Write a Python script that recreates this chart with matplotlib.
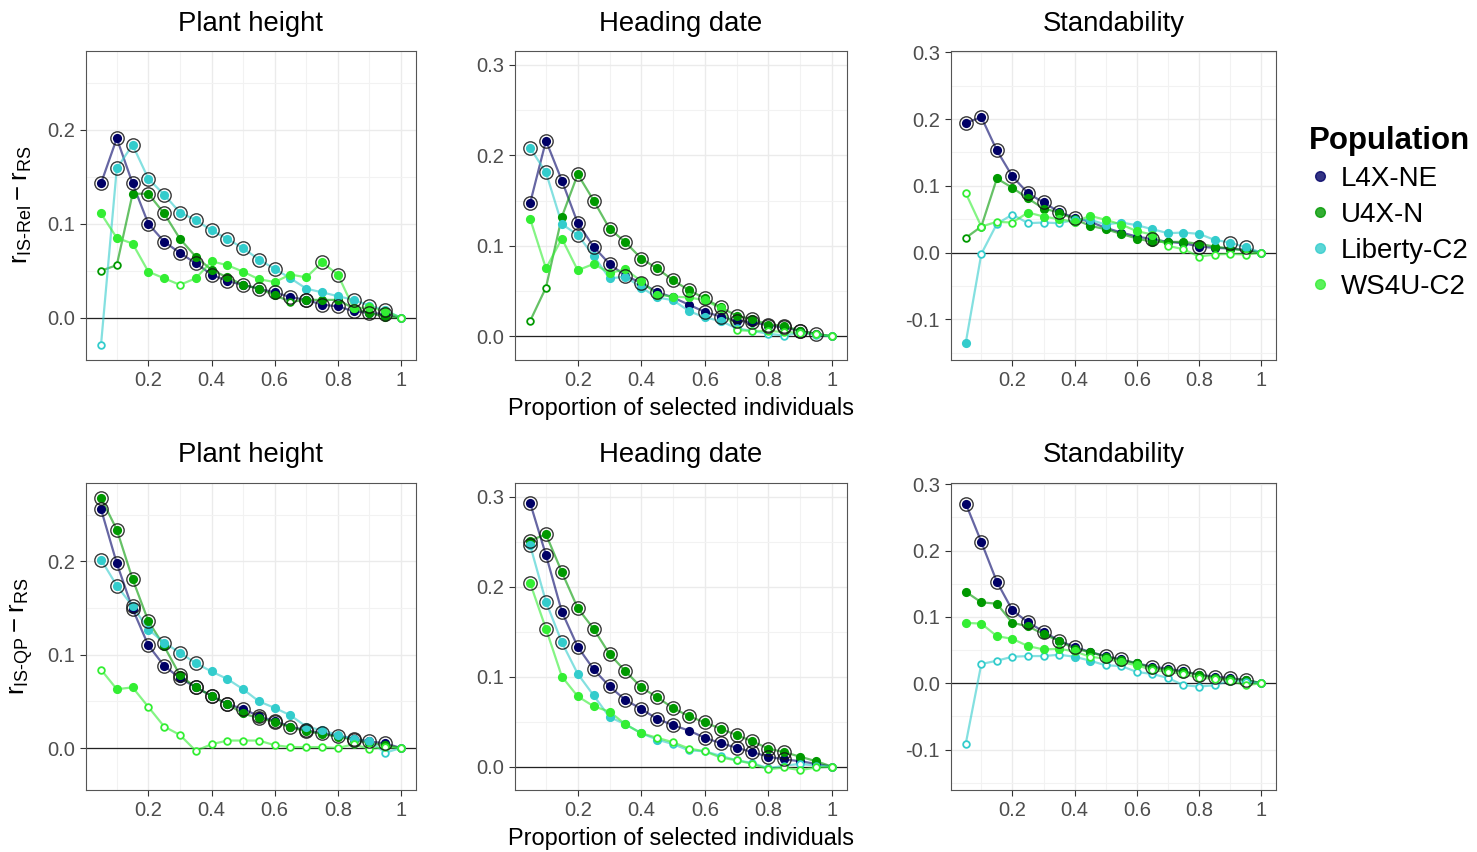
import matplotlib.pyplot as plt
from matplotlib.lines import Line2D
from matplotlib.ticker import MultipleLocator

plt.rcParams['font.family'] = ['Liberation Sans', 'DejaVu Sans']
plt.rcParams['mathtext.fontset'] = 'custom'
plt.rcParams['mathtext.rm'] = 'Liberation Sans'
plt.rcParams['mathtext.it'] = 'Liberation Sans'

# proportion of selected individuals
prop = [0.05, 0.10, 0.15, 0.20, 0.25, 0.30, 0.35, 0.40, 0.45, 0.50,
        0.55, 0.60, 0.65, 0.70, 0.75, 0.80, 0.85, 0.90, 0.95, 1.00]

populations = ['L4X-NE', 'U4X-N', 'Liberty-C2', 'WS4U-C2']
traits = ['Plant height', 'Heading date', 'Standability']

# point codes: r = filled + ring (significant), f = filled, o = open
# --- r(IS-Rel) - r(RS) ---
ph_rel_l4x = [0.143, 0.191, 0.143, 0.100, 0.081, 0.069, 0.058, 0.046, 0.039, 0.035,
              0.031, 0.027, 0.022, 0.019, 0.014, 0.012, 0.007, 0.005, 0.004, 0.0]
ph_rel_l4x_pt = "rrrrrrrrrrrrrrrrrrro"
ph_rel_u4x = [0.050, 0.056, 0.132, 0.132, 0.111, 0.084, 0.065, 0.051, 0.043, 0.035,
              0.031, 0.024, 0.017, 0.019, 0.019, 0.019, 0.010, 0.005, 0.001, 0.0]
ph_rel_u4x_pt = "oofrrffffffforfffffo"
ph_rel_lib = [-0.029, 0.159, 0.184, 0.148, 0.131, 0.112, 0.104, 0.093, 0.084, 0.074,
              0.062, 0.052, 0.042, 0.031, 0.027, 0.023, 0.019, 0.013, 0.008, 0.0]
ph_rel_lib_pt = "orrrrrrrrrrrffffrrro"
ph_rel_ws4 = [0.111, 0.085, 0.079, 0.049, 0.042, 0.035, 0.042, 0.060, 0.056, 0.049,
              0.041, 0.038, 0.046, 0.043, 0.059, 0.046, 0.010, 0.011, 0.007, 0.0]
ph_rel_ws4_pt = "fffffoffffffffrrfffo"

hd_rel_l4x = [0.147, 0.216, 0.172, 0.125, 0.099, 0.080, 0.067, 0.059, 0.049, 0.043,
              0.035, 0.027, 0.022, 0.017, 0.016, 0.012, 0.010, 0.006, 0.003, 0.0]
hd_rel_l4x_pt = "rrrrrrrrrffrrrrrrrro"
hd_rel_u4x = [0.017, 0.054, 0.132, 0.179, 0.150, 0.119, 0.104, 0.086, 0.075, 0.062,
              0.051, 0.042, 0.032, 0.023, 0.019, 0.013, 0.012, 0.006, 0.003, 0.0]
hd_rel_u4x_pt = "oofrrrrrrrrrrrrrrroo"
hd_rel_lib = [0.208, 0.181, 0.124, 0.112, 0.089, 0.064, 0.066, 0.054, 0.043, 0.040,
              0.028, 0.021, 0.017, 0.009, 0.006, 0.003, 0.001, 0.004, 0.002, 0.0]
hd_rel_lib_pt = "rrfrfffffffffooooooo"
hd_rel_ws4 = [0.130, 0.075, 0.108, 0.073, 0.080, 0.070, 0.074, 0.061, 0.046, 0.044,
              0.043, 0.040, 0.031, 0.007, 0.006, 0.006, 0.005, 0.004, 0.003, 0.0]
hd_rel_ws4_pt = "fffffffffffffooooooo"

st_rel_l4x = [0.194, 0.203, 0.153, 0.114, 0.089, 0.075, 0.061, 0.052, 0.046, 0.037,
              0.030, 0.024, 0.020, 0.016, 0.014, 0.009, 0.007, 0.006, 0.004, 0.0]
st_rel_l4x_pt = "rrrrrrrrffffrffrfffo"
st_rel_u4x = [0.022, 0.039, 0.111, 0.097, 0.081, 0.066, 0.060, 0.050, 0.040, 0.035,
              0.028, 0.021, 0.016, 0.016, 0.016, 0.013, 0.009, 0.006, 0.003, 0.0]
st_rel_u4x_pt = "oofffffffffffffffffo"
st_rel_lib = [-0.135, -0.002, 0.043, 0.057, 0.044, 0.045, 0.044, 0.049, 0.049, 0.042,
              0.045, 0.041, 0.035, 0.029, 0.030, 0.028, 0.019, 0.015, 0.008, 0.0]
st_rel_lib_pt = "fooooooffffffffffrro"
st_rel_ws4 = [0.089, 0.039, 0.046, 0.045, 0.060, 0.054, 0.050, 0.046, 0.055, 0.049,
              0.042, 0.032, 0.027, 0.010, 0.005, -0.006, -0.003, -0.002, -0.003, 0.0]
st_rel_ws4_pt = "oooofffffffffooooooo"

# --- r(IS-QP) - r(RS) ---
ph_qp_l4x = [0.256, 0.198, 0.149, 0.110, 0.088, 0.075, 0.065, 0.056, 0.047, 0.042,
             0.034, 0.029, 0.023, 0.019, 0.016, 0.013, 0.010, 0.007, 0.005, 0.0]
ph_qp_l4x_pt = "rrrrrrrrrrrrrrrrrrro"
ph_qp_u4x = [0.268, 0.234, 0.181, 0.136, 0.109, 0.078, 0.065, 0.056, 0.047, 0.037,
             0.032, 0.028, 0.022, 0.018, 0.015, 0.012, 0.009, 0.005, 0.003, 0.0]
ph_qp_u4x_pt = "rrrrfrrrrfrrfrffrffo"
ph_qp_lib = [0.202, 0.174, 0.152, 0.127, 0.113, 0.102, 0.091, 0.082, 0.074, 0.063,
             0.050, 0.043, 0.035, 0.023, 0.019, 0.014, 0.010, 0.007, -0.005, 0.0]
ph_qp_lib_pt = "rrrfrrrfffffffffffoo"
ph_qp_ws4 = [0.084, 0.063, 0.065, 0.044, 0.023, 0.014, -0.003, 0.004, 0.008, 0.008,
             0.008, 0.003, 0.001, 0.001, 0.001, 0.0, 0.004, -0.001, 0.001, 0.0]
ph_qp_ws4_pt = "offooooooooooooooooo"

hd_qp_l4x = [0.293, 0.235, 0.172, 0.133, 0.108, 0.089, 0.074, 0.064, 0.053, 0.046,
             0.040, 0.032, 0.026, 0.021, 0.016, 0.011, 0.008, 0.006, 0.003, 0.0]
hd_qp_l4x_pt = "rrrrrrrrrrfrrrrrrffo"
hd_qp_u4x = [0.251, 0.258, 0.216, 0.176, 0.153, 0.125, 0.106, 0.088, 0.077, 0.065,
             0.056, 0.049, 0.042, 0.035, 0.028, 0.020, 0.016, 0.011, 0.006, 0.0]
hd_qp_u4x_pt = "rrrrrrrrrrrrrrrrrffo"
hd_qp_lib = [0.246, 0.183, 0.138, 0.103, 0.079, 0.055, 0.047, 0.037, 0.030, 0.025,
             0.018, 0.017, 0.012, 0.007, 0.004, -0.002, 0.001, 0.003, 0.001, 0.0]
hd_qp_lib_pt = "rrrffffffooooooooooo"
hd_qp_ws4 = [0.204, 0.153, 0.100, 0.078, 0.067, 0.061, 0.047, 0.037, 0.032, 0.027,
             0.020, 0.017, 0.010, 0.007, 0.003, -0.003, -0.001, -0.004, -0.001, 0.0]
hd_qp_ws4_pt = "rrffffffoooooooooooo"

st_qp_l4x = [0.271, 0.213, 0.153, 0.110, 0.092, 0.078, 0.064, 0.055, 0.047, 0.041,
             0.036, 0.030, 0.025, 0.022, 0.018, 0.013, 0.010, 0.008, 0.005, 0.0]
st_qp_l4x_pt = "rrrrrrrrfrrfrrrrrrro"
st_qp_u4x = [0.138, 0.122, 0.120, 0.091, 0.086, 0.074, 0.064, 0.052, 0.047, 0.040,
             0.035, 0.030, 0.023, 0.020, 0.017, 0.013, 0.008, 0.006, 0.005, 0.0]
st_qp_u4x_pt = "fffffffffffffffffffo"
st_qp_lib = [-0.091, 0.029, 0.034, 0.040, 0.041, 0.041, 0.043, 0.040, 0.034, 0.027,
             0.026, 0.017, 0.014, 0.008, -0.003, -0.005, -0.003, 0.004, 0.002, 0.0]
st_qp_lib_pt = "oooooooffooooooooooo"
st_qp_ws4 = [0.091, 0.090, 0.071, 0.067, 0.056, 0.051, 0.052, 0.048, 0.040, 0.037,
             0.032, 0.027, 0.020, 0.017, 0.014, 0.008, 0.007, 0.004, -0.003, 0.0]
st_qp_ws4_pt = "ffffffffofffoooooooo"

colors = ['#000066', '#009900', '#33CCCC', '#33EE33']

col_ylim = [(-0.045, 0.284), (-0.026, 0.315), (-0.161, 0.302)]
col_yticks = [[0.0, 0.1, 0.2], [0.0, 0.1, 0.2, 0.3], [-0.1, 0.0, 0.1, 0.2, 0.3]]

rows = [
    [[(ph_rel_l4x, ph_rel_l4x_pt), (ph_rel_u4x, ph_rel_u4x_pt), (ph_rel_lib, ph_rel_lib_pt), (ph_rel_ws4, ph_rel_ws4_pt)],
     [(hd_rel_l4x, hd_rel_l4x_pt), (hd_rel_u4x, hd_rel_u4x_pt), (hd_rel_lib, hd_rel_lib_pt), (hd_rel_ws4, hd_rel_ws4_pt)],
     [(st_rel_l4x, st_rel_l4x_pt), (st_rel_u4x, st_rel_u4x_pt), (st_rel_lib, st_rel_lib_pt), (st_rel_ws4, st_rel_ws4_pt)]],
    [[(ph_qp_l4x, ph_qp_l4x_pt), (ph_qp_u4x, ph_qp_u4x_pt), (ph_qp_lib, ph_qp_lib_pt), (ph_qp_ws4, ph_qp_ws4_pt)],
     [(hd_qp_l4x, hd_qp_l4x_pt), (hd_qp_u4x, hd_qp_u4x_pt), (hd_qp_lib, hd_qp_lib_pt), (hd_qp_ws4, hd_qp_ws4_pt)],
     [(st_qp_l4x, st_qp_l4x_pt), (st_qp_u4x, st_qp_u4x_pt), (st_qp_lib, st_qp_lib_pt), (st_qp_ws4, st_qp_ws4_pt)]],
]
ylabels = [r'$\mathrm{r_{IS\text{-}Rel} - r_{RS}}$', r'$\mathrm{r_{IS\text{-}QP} - r_{RS}}$']

W, H = 1477, 852
col_px = [(86, 416), (515, 847), (951, 1276)]
row_px = [(51, 360), (483, 790)]
title_y = [24, 455]
xlab_y = [408, 838]
ylab_y = [205, 636]


def pick(xs, ys, codes, keep):
    sel = [i for i, c in enumerate(codes) if c in keep]
    return [xs[i] for i in sel], [ys[i] for i in sel]


def draw_panel(ax, series, ylim, yticks):
    rings = []
    for (vals, codes), col in zip(series, colors):
        ax.plot(prop, vals, color=col, lw=1.6, alpha=0.6, zorder=2)
        fx, fy = pick(prop, vals, codes, 'fr')
        ax.plot(fx, fy, 'o', ms=6.6, mfc=col, mec=col, mew=0, zorder=3)
        ox, oy = pick(prop, vals, codes, 'o')
        ax.plot(ox, oy, 'o', ms=4.8, mfc='white', mec=col, mew=1.3, zorder=3)
        rings.append(pick(prop, vals, codes, 'r'))
    for rx, ry in rings:
        ax.plot(rx, ry, 'o', ms=9.6, mfc='none', mec='#151515', mew=1.0,
                alpha=0.85, zorder=4)
    ax.axhline(0, color='#222222', lw=0.9, zorder=1.5)
    ax.set_xlim(0.0025, 1.0475)
    ax.set_ylim(*ylim)
    ax.set_xticks([0.2, 0.4, 0.6, 0.8, 1.0])
    ax.set_xticklabels(['0.2', '0.4', '0.6', '0.8', '1'])
    ax.set_yticks(yticks)
    ax.set_yticklabels(['%.1f' % v for v in yticks])
    ax.xaxis.set_minor_locator(MultipleLocator(0.1))
    ax.yaxis.set_minor_locator(MultipleLocator(0.05))
    ax.grid(which='major', color='#EBEBEB', lw=1.0, zorder=0)
    ax.grid(which='minor', color='#F2F2F2', lw=0.8, zorder=0)
    ax.set_axisbelow(True)
    ax.tick_params(which='major', length=4, width=0.8, color='#333333',
                   labelsize=14.5, labelcolor='#4D4D4D', pad=4)
    ax.tick_params(which='minor', length=0)
    for sp in ax.spines.values():
        sp.set_color('#555555')
        sp.set_linewidth(0.8)


fig = plt.figure(figsize=(W / 100, H / 100), dpi=100)

for r, (top, bot) in enumerate(row_px):
    for c, (left, right) in enumerate(col_px):
        ax = fig.add_axes([left / W, 1 - bot / H, (right - left) / W, (bot - top) / H])
        draw_panel(ax, rows[r][c], col_ylim[c], col_yticks[c])
        fig.text((left + right) / 2 / W, 1 - title_y[r] / H, traits[c],
                 ha='center', va='center', fontsize=19.8)
    fig.text(681 / W, 1 - xlab_y[r] / H, 'Proportion of selected individuals',
             ha='center', va='center', fontsize=16.9)
    fig.text(22 / W, 1 - ylab_y[r] / H, ylabels[r], rotation=90,
             ha='center', va='center', fontsize=18.5)

handles = [Line2D([], [], ls='none', marker='o', ms=7, mfc=c, mec=c, alpha=0.8)
           for c in colors]
leg = fig.legend(handles, populations, loc='upper left',
                 bbox_to_anchor=(1298 / W, 1 - 115 / H), frameon=False,
                 title='Population', fontsize=20, handlelength=0.8,
                 handletextpad=0.35, labelspacing=0.36, borderaxespad=0,
                 alignment='left',
                 title_fontproperties={'weight': 'bold', 'size': 22.5})

fig.savefig('out.png', dpi=100)
